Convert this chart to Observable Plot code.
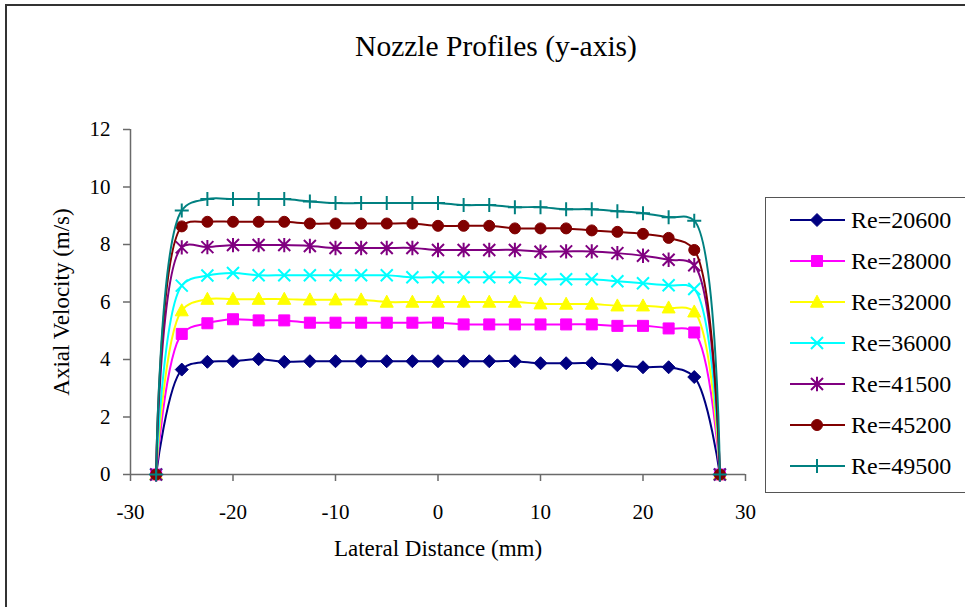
<!DOCTYPE html>
<html>
<head>
<meta charset="utf-8">
<script src="https://cdn.jsdelivr.net/npm/d3@7"></script>
<script src="https://cdn.jsdelivr.net/npm/@observablehq/plot@0.6"></script>
<style>
  body { margin: 0; background: #fff; }
  #wrap { position: relative; width: 965px; height: 607px; overflow: hidden; background: #fff;
          font-family: "Liberation Serif", "Times New Roman", serif; color: #000; }
  #frame { position: absolute; left: 5px; top: 4px; width: 1200px; height: 900px;
           border-left: 2px solid #333; border-top: 2px solid #333; pointer-events: none; }
  #title { position: relative; height: 100px; }
  #title span { position: absolute; left: 0; width: 992px; top: 29px; text-align: center;
                font-size: 29.5px; line-height: 34px; }
  #chart svg { display: block; }
  #legend { position: absolute; left: 765px; top: 197px; width: 260px; height: 294px;
            border: 1.5px solid #555; border-right: none; background: #fff; }
  .row { position: absolute; left: 0; height: 40px; width: 250px; }
  .row svg { position: absolute; left: 23.5px; top: 0; }
  .row span { position: absolute; left: 85px; top: 0; line-height: 40px; font-size: 24px; white-space: nowrap; }
</style>
</head>
<body>
<div id="wrap">
  <div id="title"><span>Nozzle Profiles (y-axis)</span></div>
  <div id="chart"></div>
  <div id="legend"></div>
  <div id="frame"></div>
</div>
<script>
// ---- data ----
const xPositions = [-27.5, -25, -22.5, -20, -17.5, -15, -12.5, -10, -7.5, -5, -2.5, 0,
                    2.5, 5, 7.5, 10, 12.5, 15, 17.5, 20, 22.5, 25, 27.5];
const seriesNames = ["Re=20600", "Re=28000", "Re=32000", "Re=36000", "Re=41500", "Re=45200", "Re=49500"];
const re20600 = [0, 3.65, 3.92, 3.94, 4.01, 3.92, 3.94, 3.94, 3.94, 3.94, 3.94, 3.94, 3.94, 3.94, 3.94, 3.87, 3.87, 3.87, 3.80, 3.73, 3.73, 3.39, 0];
const re28000 = [0, 4.89, 5.26, 5.40, 5.36, 5.36, 5.28, 5.28, 5.28, 5.28, 5.28, 5.28, 5.22, 5.22, 5.22, 5.22, 5.22, 5.22, 5.17, 5.17, 5.08, 4.94, 0];
const re32000 = [0, 5.70, 6.10, 6.10, 6.10, 6.10, 6.08, 6.08, 6.08, 6.00, 6.00, 6.00, 6.00, 6.00, 6.00, 5.94, 5.93, 5.93, 5.87, 5.87, 5.80, 5.66, 0];
const re36000 = [0, 6.57, 6.92, 7.01, 6.93, 6.93, 6.93, 6.93, 6.93, 6.93, 6.86, 6.86, 6.86, 6.86, 6.86, 6.79, 6.79, 6.79, 6.72, 6.65, 6.58, 6.45, 0];
const re41500 = [0, 7.90, 7.91, 7.98, 7.98, 7.98, 7.95, 7.88, 7.88, 7.88, 7.88, 7.81, 7.81, 7.81, 7.81, 7.75, 7.76, 7.76, 7.70, 7.61, 7.47, 7.28, 0];
const re45200 = [0, 8.63, 8.79, 8.79, 8.79, 8.79, 8.73, 8.73, 8.73, 8.73, 8.73, 8.65, 8.65, 8.65, 8.56, 8.56, 8.56, 8.49, 8.44, 8.37, 8.23, 7.81, 0];
const re49500 = [0, 9.18, 9.58, 9.58, 9.58, 9.58, 9.50, 9.44, 9.44, 9.44, 9.44, 9.44, 9.37, 9.37, 9.30, 9.30, 9.23, 9.23, 9.16, 9.09, 8.95, 8.83, 0];
const seriesValues = [re20600, re28000, re32000, re36000, re41500, re45200, re49500];
const xTicks = [-30, -20, -10, 0, 10, 20, 30];
const yTicks = [0, 2, 4, 6, 8, 10, 12];
const chartTitle = "Nozzle Profiles (y-axis)";
const xLabel = "Lateral Distance (mm)";
const yLabel = "Axial Velocity (m/s)";

// ---- styles ----
const seriesColors = ["#000080", "#FF00FF", "#FFFF00", "#00FFFF", "#800080", "#800000", "#008080"];
const rad = s => Math.sqrt(s / Math.PI);
const symDiamond = {draw(c, s) { const r = rad(s); c.moveTo(0, -r); c.lineTo(r, 0); c.lineTo(0, r); c.lineTo(-r, 0); c.closePath(); }};
const symSquare = {draw(c, s) { const r = rad(s); c.rect(-r, -r, 2 * r, 2 * r); }};
const symTriangle = {draw(c, s) { const r = rad(s); c.moveTo(0, -r * 1.05); c.lineTo(r, r * 0.8); c.lineTo(-r, r * 0.8); c.closePath(); }};
const symX = {draw(c, s) { const r = rad(s); c.moveTo(-r, -r); c.lineTo(r, r); c.moveTo(r, -r); c.lineTo(-r, r); }};
const symAsterisk = {draw(c, s) { const r = rad(s); c.moveTo(-r, -r); c.lineTo(r, r); c.moveTo(r, -r); c.lineTo(-r, r); c.moveTo(0, -r * 1.2); c.lineTo(0, r * 1.2); }};
const symCircle = {draw(c, s) { const r = rad(s); c.moveTo(r, 0); c.arc(0, 0, r, 0, 2 * Math.PI); }};
const symPlus = {draw(c, s) { const r = rad(s); c.moveTo(-r, 0); c.lineTo(r, 0); c.moveTo(0, -r); c.lineTo(0, r); }};
const seriesSymbols = [symDiamond, symSquare, symTriangle, symX, symAsterisk, symCircle, symPlus];
const seriesRadius = [6.5, 5.5, 6.5, 6, 6, 5.5, 7];
const seriesFilled = [true, true, true, false, false, true, false];

document.querySelector("#title span").textContent = chartTitle;

const marks = [
  Plot.ruleX([xTicks[0]], {y1: yTicks[0], y2: yTicks[yTicks.length - 1], stroke: "#6a6a6a", strokeWidth: 1.5}),
  Plot.ruleY([yTicks[0]], {x1: xTicks[0], x2: xTicks[xTicks.length - 1], stroke: "#6a6a6a", strokeWidth: 1.5}),
  Plot.axisX({ticks: xTicks, tickSize: 7, tickPadding: 23, stroke: "#6a6a6a", strokeWidth: 1.5, fill: "#000", fontSize: 21, tickFormat: d => String(d), label: null}),
  Plot.axisX({ticks: [], tickSize: 0, label: xLabel, labelAnchor: "center", labelOffset: 81, fontSize: 23, fill: "#000", labelArrow: "none"}),
  Plot.axisY({ticks: yTicks, tickSize: 7, tickPadding: 13, stroke: "#6a6a6a", strokeWidth: 1.5, fill: "#000", fontSize: 21, tickFormat: d => String(d), label: null}),
  Plot.axisY({ticks: [], tickSize: 0, label: yLabel, labelAnchor: "center", labelOffset: 78, fontSize: 23, fill: "#000", labelArrow: "none"})
];

seriesNames.forEach((name, i) => {
  const rows = seriesValues[i].map((v, j) => ({x: xPositions[j], y: v, series: name}));
  const col = seriesColors[i];
  marks.push(Plot.line(rows, {x: "x", y: "y", stroke: col, strokeWidth: 2, curve: "catmull-rom"}));
  marks.push(Plot.dot(rows, {
    x: "x", y: "y", symbol: seriesSymbols[i], r: seriesRadius[i],
    fill: seriesFilled[i] ? col : "none",
    stroke: col, strokeWidth: seriesFilled[i] ? 1 : 2
  }));
});

const chart = Plot.plot({
  width: 965, height: 507,
  marginTop: 29, marginBottom: 133, marginLeft: 130, marginRight: 220,
  x: {domain: [xTicks[0], xTicks[xTicks.length - 1]]},
  y: {domain: [yTicks[0], yTicks[yTicks.length - 1]]},
  style: {fontFamily: '"Liberation Serif", "Times New Roman", serif', fontSize: "21px", color: "#000", background: "transparent", overflow: "visible"},
  marks
});
document.getElementById("chart").appendChild(chart);

// ---- legend ----
const legend = document.getElementById("legend");
seriesNames.forEach((name, i) => {
  const row = document.createElement("div");
  row.className = "row";
  row.style.top = (1.5 + i * 41.1) + "px";
  const svg = d3.create("svg").attr("width", 56).attr("height", 40);
  svg.append("line").attr("x1", 0).attr("x2", 55).attr("y1", 20).attr("y2", 20)
     .attr("stroke", seriesColors[i]).attr("stroke-width", 2);
  const r = seriesRadius[i];
  svg.append("path")
     .attr("transform", "translate(27,20)")
     .attr("d", d3.symbol(seriesSymbols[i], r * r * Math.PI)())
     .attr("fill", seriesFilled[i] ? seriesColors[i] : "none")
     .attr("stroke", seriesColors[i])
     .attr("stroke-width", seriesFilled[i] ? 1 : 2);
  row.appendChild(svg.node());
  const span = document.createElement("span");
  span.textContent = name;
  row.appendChild(span);
  legend.appendChild(row);
});
</script>
</body>
</html>
